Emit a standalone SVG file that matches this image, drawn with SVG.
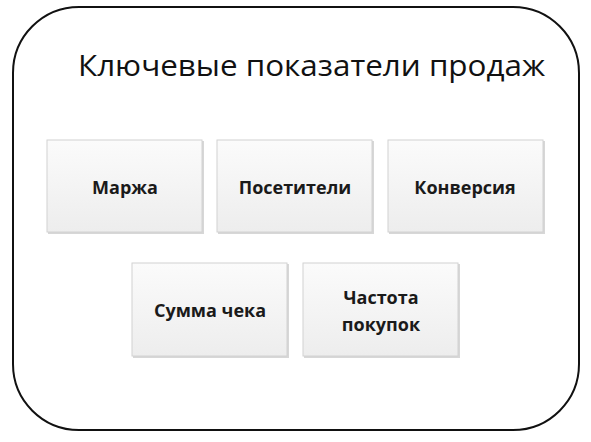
<svg xmlns="http://www.w3.org/2000/svg" width="591" height="442" viewBox="0 0 591 442">
<defs>
<linearGradient id="g" x1="0" y1="0" x2="0" y2="1">
<stop offset="0" stop-color="#fbfbfb"/>
<stop offset="1" stop-color="#ededed"/>
</linearGradient>
<style>
.box{fill:url(#g);stroke:#d2d2d2;stroke-width:1}
.sh{fill:#bdbdbd;opacity:0.6}
.lbl{font-family:"Open Sans","Liberation Sans",sans-serif;font-weight:bold;font-size:18px;fill:#1a1a1a;text-anchor:middle}
.ttl{font-family:"Open Sans","Liberation Sans",sans-serif;font-size:30px;fill:#111}
</style>
</defs>
<rect width="591" height="442" fill="#fff"/>
<g id="frame">
<rect x="13" y="7" width="566" height="423" rx="66" ry="66" fill="none" stroke="#111" stroke-width="2"/>
<text class="ttl" x="78" y="76" textLength="467" lengthAdjust="spacingAndGlyphs">Ключевые показатели продаж</text>
</g>
<g id="connectors"/>
<g id="n1">
<rect class="sh" x="48" y="141" width="156" height="93"/>
<rect class="box" x="47" y="140" width="155" height="92"/>
<text class="lbl" x="125" y="194">Маржа</text>
</g>
<g id="n2">
<rect class="sh" x="218" y="141" width="156" height="93"/>
<rect class="box" x="217" y="140" width="155" height="92"/>
<text class="lbl" x="295" y="194">Посетители</text>
</g>
<g id="n3">
<rect class="sh" x="389" y="141" width="156" height="93"/>
<rect class="box" x="388" y="140" width="155" height="92"/>
<text class="lbl" x="465" y="194">Конверсия</text>
</g>
<g id="n4">
<rect class="sh" x="133" y="264" width="156" height="94"/>
<rect class="box" x="132" y="263" width="155" height="93"/>
<text class="lbl" x="210" y="317">Сумма чека</text>
</g>
<g id="n5">
<rect class="sh" x="304" y="264" width="156" height="94"/>
<rect class="box" x="303" y="263" width="155" height="93"/>
<text class="lbl" x="381" y="304">Частота</text>
<text class="lbl" x="381" y="331">покупок</text>
</g>
</svg>
